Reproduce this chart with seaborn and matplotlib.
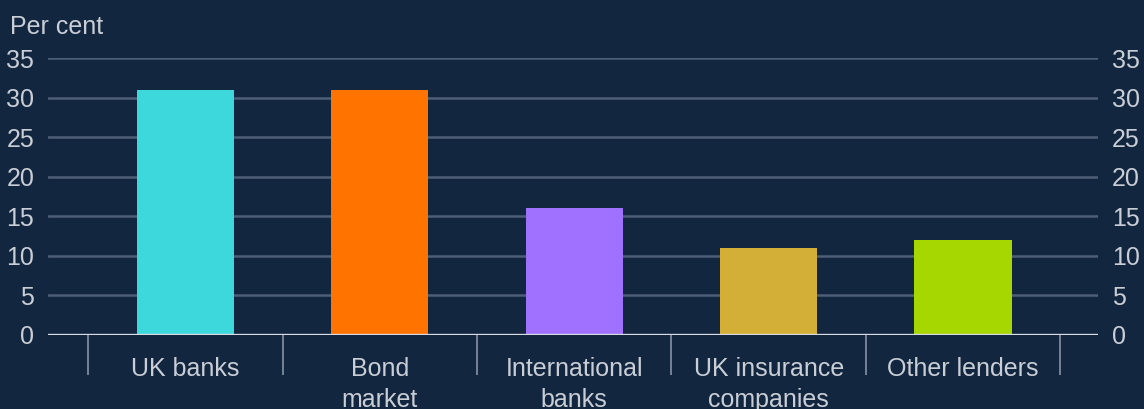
import matplotlib
matplotlib.use("Agg")
import matplotlib.pyplot as plt
import seaborn as sns
import pandas as pd
import numpy as np

categories = ["UK banks", "Bond\nmarket", "International\nbanks", "UK insurance\ncompanies", "Other lenders"]
shares = [31, 31, 16, 11, 12]
bar_colors = ["#3DD8DC", "#FF7300", "#A070FF", "#D4AF37", "#A6D700"]
y_ticks = [0, 5, 10, 15, 20, 25, 30, 35]

bg = "#13263F"
text_col = "#C9CED6"
grid_col = "#4D5E76"

sns.set_theme(style="white")
plt.rcParams["font.family"] = ["Liberation Sans", "DejaVu Sans"]

df = pd.DataFrame({"category": categories, "share": shares})

fig = plt.figure(figsize=(11.44, 4.09), dpi=100, facecolor=bg)
ax = fig.add_axes([0.042, 0.181, 0.918, 0.677], facecolor=bg)

sns.barplot(data=df, x="category", y="share", hue="category", palette=bar_colors,
            width=0.5, legend=False, ax=ax, saturation=1, linewidth=0, zorder=3)

ax.set_ylim(0, 35)
ax.set_xlim(-0.706, 4.695)
ax.set_yticks(y_ticks)
ax.yaxis.grid(True, color=grid_col, linewidth=1.8, zorder=0)
ax.set_axisbelow(True)
ax.axhline(0, color="#D8DCE2", linewidth=2.4, zorder=5)

for s in ax.spines.values():
    s.set_visible(False)

ax.tick_params(axis="y", which="both", length=0, labelsize=18, labelcolor=text_col,
               left=True, right=True, labelleft=True, labelright=True, pad=10)
ax.tick_params(axis="x", which="major", length=0, labelsize=18, labelcolor=text_col, pad=16)
ax.set_xticks(np.arange(-0.5, len(categories)), minor=True)
ax.tick_params(axis="x", which="minor", bottom=True, length=29, width=1.3,
               color="#7F8A9A", direction="out")
ax.set_xlabel("")
ax.set_ylabel("")
for lbl in ax.get_xticklabels():
    lbl.set_linespacing(1.38)

fig.text(0.009, 0.935, "Per cent", color=text_col, fontsize=18, ha="left", va="center")

fig.savefig("out.png", dpi=100, facecolor=bg)
